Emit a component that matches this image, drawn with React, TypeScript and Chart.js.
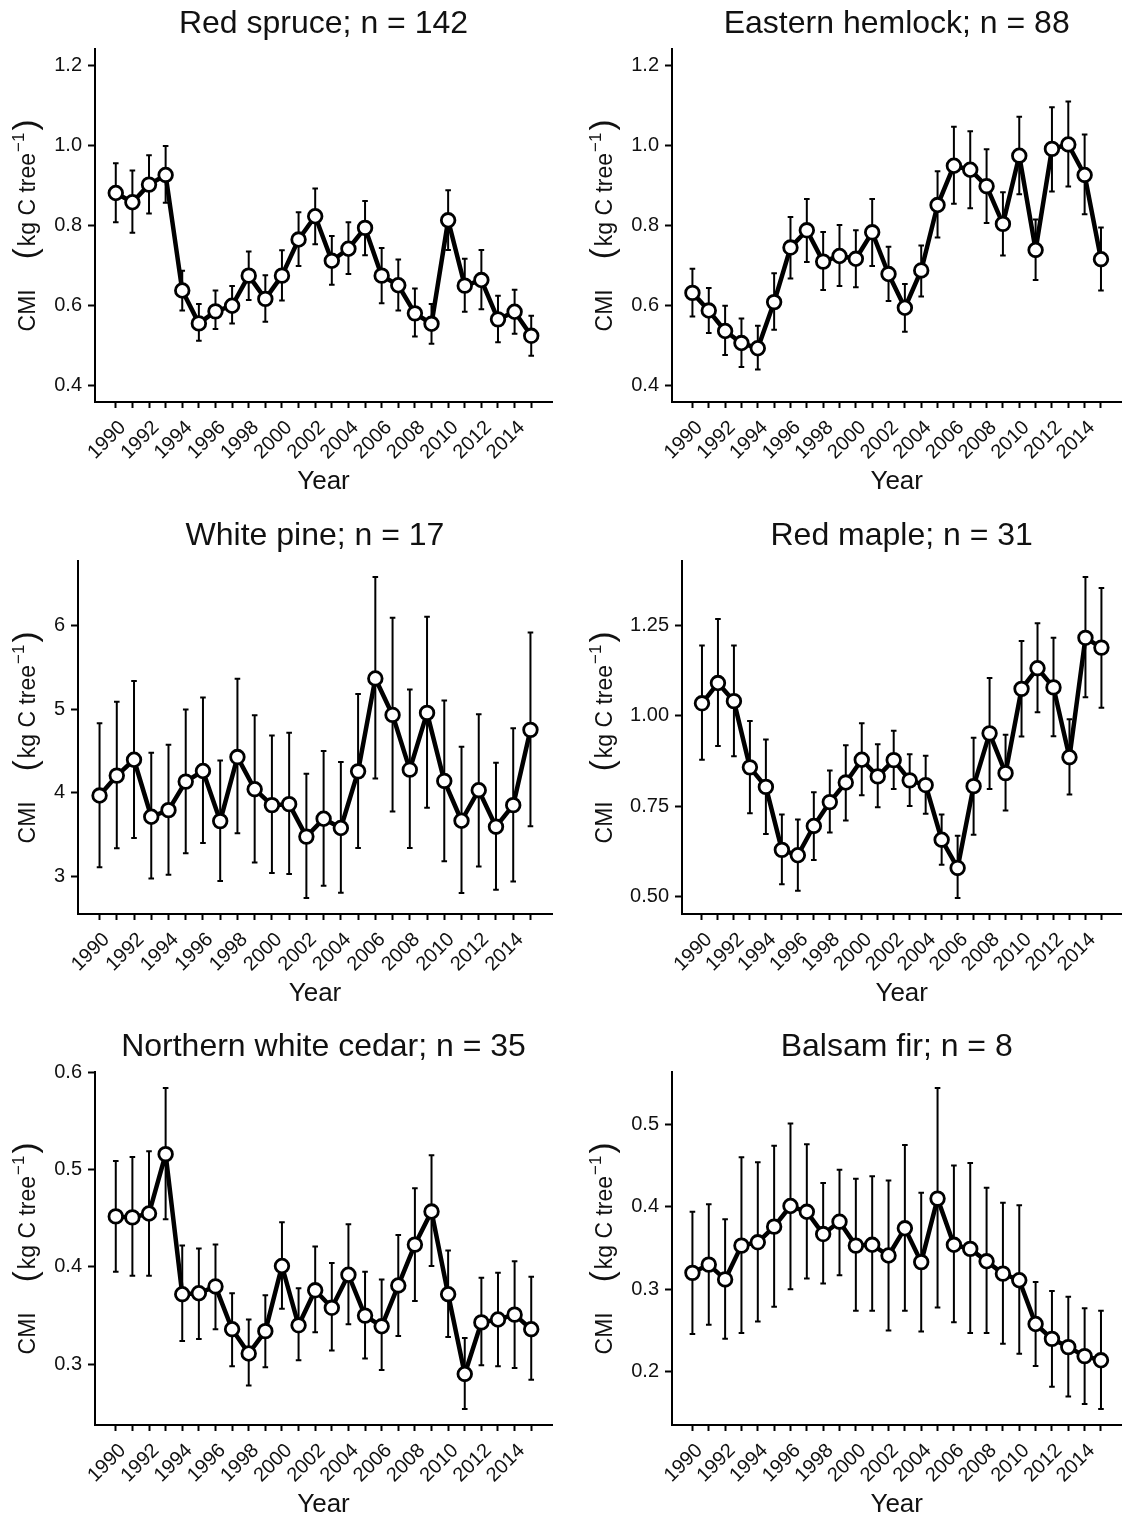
import React, { useEffect, useRef } from "react";
import { Chart, registerables } from "chart.js";

Chart.register(...registerables);

// ---- data ---------------------------------------------------------------
const years = [
  1990, 1991, 1992, 1993, 1994, 1995, 1996, 1997, 1998, 1999, 2000, 2001, 2002,
  2003, 2004, 2005, 2006, 2007, 2008, 2009, 2010, 2011, 2012, 2013, 2014, 2015,
];
const yearLabels = [
  "1990", "1992", "1994", "1996", "1998", "2000", "2002",
  "2004", "2006", "2008", "2010", "2012", "2014",
];

const redSpruceMean = [0.881, 0.858, 0.902, 0.926, 0.638, 0.556, 0.586, 0.600, 0.675, 0.617, 0.675, 0.765, 0.823, 0.712, 0.742, 0.794, 0.675, 0.651, 0.581, 0.555, 0.813, 0.650, 0.664, 0.566, 0.585, 0.525];
const redSpruceUpper = [0.955, 0.937, 0.975, 0.998, 0.687, 0.604, 0.638, 0.649, 0.735, 0.676, 0.738, 0.833, 0.892, 0.774, 0.808, 0.861, 0.744, 0.715, 0.643, 0.604, 0.888, 0.717, 0.739, 0.625, 0.640, 0.575];
const redSpruceLower = [0.808, 0.782, 0.830, 0.857, 0.588, 0.513, 0.542, 0.556, 0.614, 0.560, 0.613, 0.699, 0.753, 0.652, 0.679, 0.726, 0.606, 0.588, 0.523, 0.505, 0.739, 0.585, 0.591, 0.509, 0.530, 0.475];
const redSpruceTicks = ["0.4", "0.6", "0.8", "1.0", "1.2"];

const hemlockMean = [0.632, 0.588, 0.537, 0.507, 0.494, 0.609, 0.745, 0.788, 0.710, 0.724, 0.717, 0.783, 0.679, 0.595, 0.688, 0.851, 0.949, 0.939, 0.898, 0.804, 0.974, 0.739, 0.991, 1.002, 0.926, 0.716];
const hemlockUpper = [0.692, 0.644, 0.600, 0.568, 0.550, 0.681, 0.821, 0.866, 0.784, 0.801, 0.788, 0.866, 0.747, 0.654, 0.750, 0.935, 1.046, 1.035, 0.990, 0.883, 1.071, 0.815, 1.095, 1.109, 1.027, 0.795];
const hemlockLower = [0.573, 0.532, 0.477, 0.447, 0.441, 0.540, 0.668, 0.709, 0.639, 0.649, 0.646, 0.699, 0.612, 0.535, 0.623, 0.770, 0.854, 0.843, 0.806, 0.725, 0.878, 0.664, 0.885, 0.897, 0.828, 0.638];
const hemlockTicks = ["0.4", "0.6", "0.8", "1.0", "1.2"];

const whitePineMean = [3.968, 4.207, 4.397, 3.714, 3.793, 4.135, 4.262, 3.662, 4.429, 4.044, 3.853, 3.865, 3.476, 3.690, 3.579, 4.258, 5.371, 4.934, 4.278, 4.958, 4.143, 3.666, 4.032, 3.595, 3.853, 4.755];
const whitePineUpper = [4.834, 5.093, 5.339, 4.481, 4.576, 5.000, 5.144, 4.389, 5.367, 4.930, 4.687, 4.719, 4.230, 4.501, 4.369, 5.184, 6.586, 6.098, 5.240, 6.110, 5.108, 4.552, 4.942, 4.362, 4.775, 5.923];
const whitePineLower = [3.110, 3.337, 3.460, 2.975, 3.019, 3.277, 3.400, 2.943, 3.515, 3.166, 3.039, 3.027, 2.741, 2.888, 2.804, 3.340, 4.171, 3.778, 3.340, 3.821, 3.182, 2.800, 3.118, 2.840, 2.939, 3.599];
const whitePineTicks = ["3", "4", "5", "6"];

const redMapleMean = [1.034, 1.090, 1.040, 0.857, 0.803, 0.629, 0.614, 0.695, 0.761, 0.815, 0.878, 0.832, 0.877, 0.821, 0.808, 0.657, 0.579, 0.805, 0.951, 0.841, 1.074, 1.131, 1.078, 0.885, 1.215, 1.188];
const redMapleUpper = [1.194, 1.267, 1.194, 0.985, 0.934, 0.727, 0.713, 0.788, 0.848, 0.918, 0.979, 0.921, 0.958, 0.893, 0.889, 0.727, 0.668, 0.939, 1.104, 0.947, 1.206, 1.255, 1.215, 0.990, 1.383, 1.353];
const redMapleLower = [0.878, 0.916, 0.888, 0.730, 0.673, 0.534, 0.516, 0.601, 0.677, 0.710, 0.780, 0.747, 0.797, 0.750, 0.729, 0.588, 0.496, 0.671, 0.797, 0.738, 0.942, 1.009, 0.943, 0.782, 1.051, 1.022];
const redMapleTicks = ["0.50", "0.75", "1.00", "1.25"];

const cedarMean = [0.452, 0.451, 0.455, 0.516, 0.372, 0.373, 0.380, 0.336, 0.311, 0.334, 0.401, 0.340, 0.376, 0.358, 0.392, 0.350, 0.339, 0.381, 0.423, 0.457, 0.372, 0.290, 0.343, 0.346, 0.351, 0.336];
const cedarUpper = [0.509, 0.513, 0.519, 0.584, 0.422, 0.419, 0.423, 0.373, 0.346, 0.371, 0.446, 0.378, 0.421, 0.404, 0.444, 0.395, 0.387, 0.433, 0.481, 0.515, 0.417, 0.327, 0.389, 0.394, 0.406, 0.390];
const cedarLower = [0.395, 0.391, 0.391, 0.449, 0.324, 0.326, 0.336, 0.298, 0.278, 0.297, 0.357, 0.304, 0.333, 0.314, 0.341, 0.306, 0.294, 0.329, 0.365, 0.401, 0.328, 0.254, 0.299, 0.298, 0.296, 0.284];
const cedarTicks = ["0.3", "0.4", "0.5", "0.6"];

const balsamMean = [0.320, 0.330, 0.312, 0.353, 0.357, 0.376, 0.401, 0.394, 0.367, 0.382, 0.353, 0.354, 0.341, 0.374, 0.333, 0.410, 0.354, 0.349, 0.334, 0.319, 0.311, 0.258, 0.240, 0.230, 0.219, 0.214];
const balsamUpper = [0.394, 0.403, 0.385, 0.460, 0.454, 0.474, 0.501, 0.476, 0.429, 0.445, 0.434, 0.437, 0.432, 0.475, 0.417, 0.544, 0.450, 0.453, 0.423, 0.405, 0.402, 0.309, 0.298, 0.291, 0.277, 0.274];
const balsamLower = [0.246, 0.257, 0.240, 0.247, 0.261, 0.279, 0.300, 0.313, 0.307, 0.317, 0.274, 0.274, 0.250, 0.274, 0.249, 0.278, 0.260, 0.247, 0.247, 0.234, 0.222, 0.207, 0.182, 0.170, 0.161, 0.155];
const balsamTicks = ["0.2", "0.3", "0.4", "0.5"];

// ---- panel definitions --------------------------------------------------
type Spec = {
  title: string;
  mean: number[];
  upper: number[];
  lower: number[];
  ticks: string[];
  limits?: [number, number];
};

const specs: Spec[] = [
  { title: "Red spruce; n = 142", mean: redSpruceMean, upper: redSpruceUpper, lower: redSpruceLower, ticks: redSpruceTicks, limits: [0.4, 1.2] },
  { title: "Eastern hemlock; n = 88", mean: hemlockMean, upper: hemlockUpper, lower: hemlockLower, ticks: hemlockTicks, limits: [0.4, 1.2] },
  { title: "White pine; n = 17", mean: whitePineMean, upper: whitePineUpper, lower: whitePineLower, ticks: whitePineTicks },
  { title: "Red maple; n = 31", mean: redMapleMean, upper: redMapleUpper, lower: redMapleLower, ticks: redMapleTicks },
  { title: "Northern white cedar; n = 35", mean: cedarMean, upper: cedarUpper, lower: cedarLower, ticks: cedarTicks },
  { title: "Balsam fir; n = 8", mean: balsamMean, upper: balsamUpper, lower: balsamLower, ticks: balsamTicks },
];

// geometry of the 2 x 3 grid
const CANVAS_H = 496;
const PLOT_TOP = 49;
const PLOT_BOTTOM = 402;
const TITLE_BASELINE = 33;
const XTITLE_BASELINE = 489;
const rowTops = [0, 512, 1023];
const cols = [
  { left: 0, width: 565, plotRight: 552, yTitleX: 35 },
  { left: 565, width: 566, plotRight: 563, yTitleX: 47 },
];
const plotLefts = [95, 107, 78, 117, 95, 107];

const FONT = "'Liberation Sans', Arial, Helvetica, sans-serif";
const INK = "#111";

function expand(lo: number, hi: number, mult = 0.05): [number, number] {
  const pad = (hi - lo) * mult;
  return [lo - pad, hi + pad];
}

function Panel({ spec, index }: { spec: Spec; index: number }) {
  const ref = useRef<HTMLCanvasElement | null>(null);
  const col = cols[index % 2];
  const top = rowTops[Math.floor(index / 2)];
  const plotLeft = plotLefts[index];

  useEffect(() => {
    const canvas = ref.current;
    if (!canvas) return;

    const [yMin, yMax] = spec.limits
      ? expand(spec.limits[0], spec.limits[1])
      : expand(Math.min(...spec.lower), Math.max(...spec.upper));
    const [xMin, xMax] = expand(years[0], years[years.length - 1]);
    const yTickValues = spec.ticks.map(Number);

    const errorBars = {
      id: "errorBars",
      beforeDatasetsDraw(chart: any) {
        const { ctx, scales } = chart;
        const xs = scales.x;
        const ys = scales.y;
        ctx.save();
        ctx.strokeStyle = "#000";
        ctx.lineWidth = 2;
        ctx.lineCap = "butt";
        const cap = 2.8;
        years.forEach((yr, i) => {
          const px = xs.getPixelForValue(yr);
          const pTop = ys.getPixelForValue(spec.upper[i]);
          const pBot = ys.getPixelForValue(spec.lower[i]);
          ctx.beginPath();
          ctx.moveTo(px, pTop);
          ctx.lineTo(px, pBot);
          ctx.moveTo(px - cap, pTop);
          ctx.lineTo(px + cap, pTop);
          ctx.moveTo(px - cap, pBot);
          ctx.lineTo(px + cap, pBot);
          ctx.stroke();
        });
        ctx.restore();
      },
    };

    const panelText = {
      id: "panelText",
      afterDraw(chart: any) {
        const { ctx, chartArea } = chart;
        const cx = (chartArea.left + chartArea.right) / 2;
        const cy = (chartArea.top + chartArea.bottom) / 2;
        ctx.save();
        ctx.fillStyle = INK;
        ctx.textAlign = "center";
        ctx.textBaseline = "alphabetic";
        ctx.font = `32px ${FONT}`;
        ctx.fillText(spec.title, cx, TITLE_BASELINE);
        ctx.font = `26px ${FONT}`;
        ctx.fillText("Year", cx, XTITLE_BASELINE);

        // y axis title: CMI  (kg C tree^-1), drawn bottom-to-top
        ctx.translate(col.yTitleX, cy);
        ctx.rotate(-Math.PI / 2);
        ctx.textAlign = "left";
        const mainFont = `23px ${FONT}`;
        const parenFont = `33px ${FONT}`;
        const supFont = `17px ${FONT}`;
        const parts: { text: string; font: string; dy: number; gapAfter: number }[] = [
          { text: "CMI", font: mainFont, dy: 0, gapAfter: 30 },
          { text: "(", font: parenFont, dy: 1, gapAfter: 2 },
          { text: "kg C tree", font: mainFont, dy: 0, gapAfter: 1 },
          { text: "\u22121", font: supFont, dy: -11, gapAfter: 2 },
          { text: ")", font: parenFont, dy: 1, gapAfter: 0 },
        ];
        const widths = parts.map((p) => {
          ctx.font = p.font;
          return ctx.measureText(p.text).width;
        });
        const total = parts.reduce((s, p, i) => s + widths[i] + p.gapAfter, 0);
        let pos = -total / 2;
        parts.forEach((p, i) => {
          ctx.font = p.font;
          ctx.fillText(p.text, pos, p.dy);
          pos += widths[i] + p.gapAfter;
        });
        ctx.restore();
      },
    };

    const chart = new Chart(canvas, {
      type: "line",
      data: {
        datasets: [
          {
            data: years.map((x, i) => ({ x, y: spec.mean[i] })),
            borderColor: "#000",
            borderWidth: 4.5,
            borderJoinStyle: "round",
            tension: 0,
            pointRadius: 6.8,
            pointBorderWidth: 2.8,
            pointBorderColor: "#000",
            pointBackgroundColor: "#fff",
            clip: false as any,
          },
        ],
      },
      options: {
        responsive: false,
        animation: false,
        devicePixelRatio: 1,
        events: [],
        layout: {
          padding: { top: PLOT_TOP, right: col.width - col.plotRight, left: 0, bottom: 0 },
        },
        plugins: {
          legend: { display: false },
          tooltip: { enabled: false },
          title: { display: false },
        },
        scales: {
          x: {
            type: "linear",
            min: xMin,
            max: xMax,
            afterBuildTicks: (axis: any) => {
              axis.ticks = years.map((v) => ({ value: v }));
            },
            afterFit: (axis: any) => {
              axis.height = CANVAS_H - PLOT_BOTTOM;
            },
            ticks: {
              autoSkip: false,
              minRotation: 45,
              maxRotation: 45,
              padding: 8,
              labelOffset: 7,
              color: INK,
              font: { family: FONT, size: 20 },
              callback: (v: any) => (yearLabels.includes(String(v)) ? String(v) : ""),
            },
            grid: {
              display: true,
              drawOnChartArea: false,
              drawTicks: true,
              tickLength: 6,
              tickWidth: 2,
              color: "#000",
            },
            border: { display: true, color: "#000", width: 2 },
          },
          y: {
            type: "linear",
            min: yMin,
            max: yMax,
            afterBuildTicks: (axis: any) => {
              axis.ticks = yTickValues.map((v) => ({ value: v }));
            },
            afterFit: (axis: any) => {
              axis.width = plotLeft;
            },
            ticks: {
              padding: 6,
              color: INK,
              font: { family: FONT, size: 20 },
              callback: (v: any) => {
                const k = yTickValues.findIndex((t) => Math.abs(t - Number(v)) < 1e-9);
                return k >= 0 ? spec.ticks[k] : "";
              },
            },
            grid: {
              display: true,
              drawOnChartArea: false,
              drawTicks: true,
              tickLength: 7,
              tickWidth: 2,
              color: "#000",
            },
            border: { display: true, color: "#000", width: 2 },
          },
        },
      } as any,
      plugins: [errorBars, panelText],
    });

    return () => chart.destroy();
  }, [spec, index]);

  return (
    <canvas
      ref={ref}
      width={col.width}
      height={CANVAS_H}
      style={{ position: "absolute", left: col.left, top, width: col.width, height: CANVAS_H }}
    />
  );
}

export default function App() {
  return (
    <div
      style={{
        position: "absolute",
        left: 0,
        top: 0,
        width: 1131,
        height: 1519,
        background: "#fff",
        overflow: "hidden",
      }}
    >
      {specs.map((s, i) => (
        <Panel key={s.title} spec={s} index={i} />
      ))}
    </div>
  );
}
